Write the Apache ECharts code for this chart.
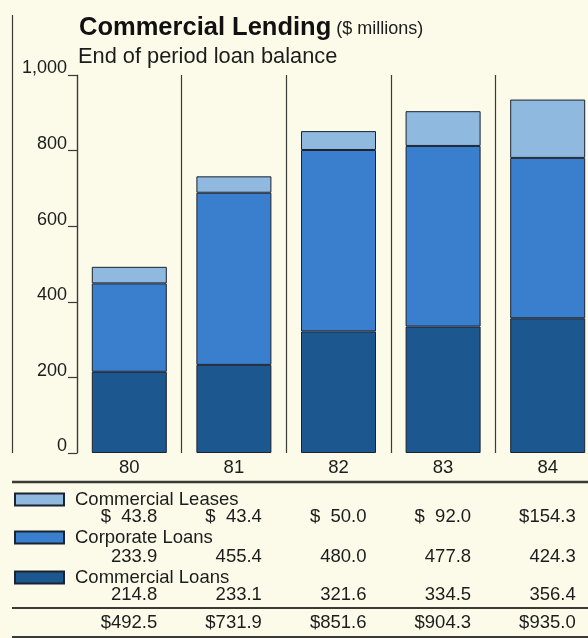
<!DOCTYPE html>
<html>
<head>
<meta charset="utf-8">
<script src="https://cdn.jsdelivr.net/npm/echarts@6/dist/echarts.min.js"></script>
<style>
  html, body { margin: 0; padding: 0; background: #fcfae9; }
  #chart { width: 588px; height: 638px; }
</style>
</head>
<body>
<div id="chart"></div>
<script>
// Year-end balances, $ millions
const years = ['80', '81', '82', '83', '84'];
const commercialLeases = [43.8, 43.4, 50.0, 92.0, 154.3];
const corporateLoans = [233.9, 455.4, 480.0, 477.8, 424.3];
const commercialLoans = [214.8, 233.1, 321.6, 334.5, 356.4];
const totals = [492.5, 731.9, 851.6, 904.3, 935.0];
const yTickLabels = ['0', '200', '400', '600', '800', '1,000'];

const FONT = "'Liberation Sans', Arial, Helvetica, sans-serif";
const INK = '#1c1c1c';
const RULE = '#3b3b36';
const PAPER = '#fcfae9';
const C_LEASES = '#8fb9de';
const C_CORP = '#3a7fcd';
const C_COMM = '#1d578f';
const EDGE = '#1b2230';

const chart = echarts.init(document.getElementById('chart'), null, { renderer: 'canvas' });

function barSeries(name, data, color) {
  return {
    name, type: 'bar', stack: 'total', data, barWidth: 75,
    itemStyle: { color, borderColor: EDGE, borderWidth: 1 },
    emphasis: { disabled: true }
  };
}

function legendAt(name, top) {
  return {
    data: [name], left: 14, top, padding: 0, itemWidth: 49, itemHeight: 12,
    icon: 'rect', selectedMode: false,
    textStyle: { fontFamily: FONT, fontSize: 18.5, color: INK, padding: [0, 0, 0, 6] }
  };
}

const option = {
  backgroundColor: PAPER,
  animation: false,
  title: [
    {
      text: '{a|Commercial Lending} {b|($ millions)}', left: 79, top: 15, padding: 0,
      textStyle: {
        rich: {
          a: { fontFamily: FONT, fontSize: 25.5, fontWeight: 'bold', color: '#111' },
          b: { fontFamily: FONT, fontSize: 18, fontWeight: 'normal', color: INK, padding: [3, 0, 0, 0] }
        }
      }
    },
    {
      text: 'End of period loan balance', left: 78, top: 46, padding: 0,
      textStyle: { fontFamily: FONT, fontSize: 21.8, fontWeight: 'normal', color: INK }
    }
  ],
  legend: [
    legendAt('Commercial Leases', 490),
    legendAt('Corporate Loans', 528),
    legendAt('Commercial Loans', 568)
  ],
  // the last year column runs past the right edge of the page
  grid: { left: 77, width: 523, top: 75, bottom: 185, outerBoundsMode: 'none', containLabel: false },
  xAxis: {
    type: 'category', data: years,
    axisLine: { show: false }, axisTick: { show: false },
    splitLine: { show: true, lineStyle: { color: RULE, width: 1.2 } },
    axisLabel: { fontFamily: FONT, fontSize: 18.5, color: INK, margin: 5 }
  },
  yAxis: {
    type: 'value', min: 0, max: 1000, interval: 200,
    splitLine: { show: false },
    axisLine: { show: true, lineStyle: { color: RULE, width: 1.2 } },
    axisTick: { show: true, length: 9, lineStyle: { color: RULE, width: 1.2 } },
    axisLabel: {
      margin: 10, fontFamily: FONT, fontSize: 18, color: INK,
      verticalAlign: 'bottom', lineHeight: 13,
      formatter: v => yTickLabels[Math.round(v / 200)]
    }
  },
  series: [
    barSeries('Commercial Loans', commercialLoans, C_COMM),
    barSeries('Corporate Loans', corporateLoans, C_CORP),
    barSeries('Commercial Leases', commercialLeases, C_LEASES)
  ]
};

chart.setOption(option);

// Figures table under the bars, right-aligned within each year column
const plain = v => v.toFixed(1);
const dollar = v => { const s = v.toFixed(1); return '$' + '  '.repeat(Math.max(0, 5 - s.length)) + s; };
const rows = [
  { values: commercialLeases, fmt: dollar, y: 517 },
  { values: corporateLoans, fmt: plain, y: 557 },
  { values: commercialLoans, fmt: plain, y: 595 },
  { values: totals, fmt: dollar, y: 623 }
];

const elements = [];
rows.forEach(row => {
  row.values.forEach((v, i) => {
    const cx = chart.convertToPixel({ xAxisIndex: 0 }, years[i]);
    elements.push({
      type: 'text', silent: true,
      style: {
        text: row.fmt(v), x: cx + 28, y: row.y,
        align: 'right', verticalAlign: 'middle',
        font: '18.5px ' + FONT, fill: INK
      }
    });
  });
});

const baseY = chart.convertToPixel({ yAxisIndex: 0 }, 0);
const rule = (x1, y1, x2, y2, w) => ({
  type: 'line', silent: true,
  shape: { x1, y1, x2, y2 },
  style: { stroke: RULE, lineWidth: w }
});
elements.push(rule(12.5, 15, 12.5, baseY, 1.2));
elements.push(rule(12, 482, 588, 482, 2.5));
elements.push(rule(12, 608, 588, 608, 2));
elements.push(rule(12, 637, 588, 637, 2));

chart.setOption({ graphic: { elements } });
</script>
</body>
</html>
